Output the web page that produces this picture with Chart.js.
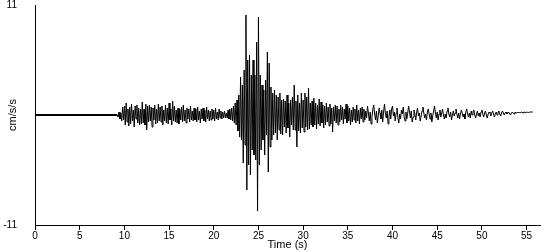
<!DOCTYPE html>
<html>
<head>
<meta charset="utf-8">
<script src="https://cdn.jsdelivr.net/npm/chart.js@4"></script>
<style>
  html, body { margin: 0; padding: 0; background: #fff; }
  #wrap { width: 550px; height: 250px; }
</style>
</head>
<body>
<div id="wrap"><canvas id="chart" width="550" height="250"></canvas></div>
<script>
// accelerogram at 0.1 s steps (cm/s/s)
const quietEnd = 9.2;   // trace is flat before this time
const step = 0.1;
const accel = [
    // 9.2 - 10
    0.0, -0.2, 0.3, -0.4, 0.2, -0.6, 0.8, -0.5,
    // 10 - 12
    0.9, -1.0, 1.2, -0.7, 0.6, -1.1, 0.8, -0.9, 1.1, -0.6,
    0.5, -1.2, 0.9, -0.4, 1.0, -0.8, 0.7, -1.0, 0.6, -0.9,
    // 12 - 14
    1.3, -0.8, 0.6, -1.0, 1.1, -1.5, 0.9, -0.7, 1.0, -0.6,
    0.8, -1.2, 0.7, -0.5, 1.0, -0.9, 0.6, -0.8, 1.1, -0.6,
    // 14 - 16
    0.8, -0.7, 0.9, -1.0, 0.5, -0.6, 1.0, -0.8, 0.7, -0.9,
    1.2, -0.5, 0.6, -1.0, 1.4, -0.6, 0.9, -0.7, 0.5, -0.8,
    // 16 - 18
    0.7, -0.9, 0.6, -0.5, 0.8, -0.7, 1.0, -0.6, 0.5, -0.8,
    0.7, -0.4, 0.6, -0.7, 0.9, -0.5, 0.4, -0.6, 0.7, -0.5,
    // 18 - 20
    0.6, -0.7, 0.8, -0.5, 0.4, -0.8, 0.6, -0.4, 0.7, -0.6,
    0.5, -0.7, 0.8, -0.4, 0.5, -0.6, 0.4, -0.5, 0.6, -0.4,
    // 20 - 22
    0.5, -0.6, 0.7, -0.4, 0.3, -0.5, 0.6, -0.3, 0.4, -0.4,
    0.3, -0.3, 0.4, -0.3, 0.2, -0.3, 0.5, -0.4, 0.6, -0.5,
    // 22 - 23
    0.7, -0.6, 0.9, -0.8, 1.2, -1.0, 1.5, -1.6, 2.0, -2.2,
    // 23 - 24 (main shock)
    3.8, -2.5, 3.0, -4.8, 4.5, -3.0, 10.0, -7.5, 5.5, -5.0,
    // 24 - 25
    6.0, -6.0, 4.0, -3.5, 5.5, -4.0, 4.0, -4.5, 7.3, -9.6,
    // 25 - 26
    9.8, -5.0, 4.0, -3.5, 3.0, -2.5, 2.5, -4.0, 3.5, -2.0,
    // 26 - 27
    6.3, -5.7, 5.2, -3.2, 2.8, -2.5, 2.2, -2.0, 2.5, -1.8,
    // 27 - 28
    2.0, -2.5, 1.8, -1.5, 2.2, -1.9, 1.5, -2.0, 1.6, -1.2,
    // 28 - 29
    1.4, -1.8, 2.0, -1.3, 1.2, -2.2, 1.5, -1.0, 1.8, -1.5,
    // 29 - 30
    3.0, -1.5, 1.4, -3.2, 2.0, -1.6, 1.2, -1.8, 2.2, -1.3,
    // 30 - 31
    1.5, -1.7, 2.2, -1.2, 1.8, -1.5, 2.7, -1.4, 1.2, -1.0,
    // 31 - 32
    1.4, -1.2, 1.7, -1.0, 1.2, -1.4, 1.0, -0.9, 1.6, -1.1,
    // 32 - 33
    1.3, -0.8, 1.0, -1.3, 0.9, -1.0, 1.2, -0.7, 0.8, -1.1,
    // 33 - 34
    1.1, -0.9, 0.7, -1.7, 0.8, -0.6, 1.0, -0.8, 0.9, -1.0,
    // 34 - 35
    0.6, -0.7, 1.0, -0.5, 0.8, -0.9, 0.6, -0.4, 1.1, -0.8,
    // 35 - 36
    0.9, -0.6, 0.7, -1.0, 0.5, -0.7, 0.8, -0.5, 0.6, -0.8,
    // 36 - 37
    1.0, -0.6, 0.5, -0.9, 0.7, -0.4, 0.8, -0.7, 0.6, -0.5,
    // 37 - 40 (coda)
    0.4, -0.3, 0.9, 0.2, -0.6, 0.3, -0.9, -0.2, 0.6, 1.0,
    0.1, -0.5, 0.4, -0.8, -0.1, 0.7, 0.2, -0.4, 0.5, -0.7,
    0.3, 1.1, 0.2, -0.3, 0.4, -0.9, -0.2, 0.5, -0.4, 0.6,
    // 40 - 45
    0.9, -0.1, 0.3, -0.6, 0.2, 0.7, -0.3, -0.8, 0.1, -0.4,
    0.5, 0.1, 0.8, -0.2, -0.6, 0.3, -0.4, 0.2, 0.9, 0.3,
    -0.3, 0.4, -0.7, -0.2, 0.5, 0.1, -0.5, 0.3, 0.7, -0.1,
    0.2, -0.6, -0.1, 0.4, 0.8, 0.2, -0.3, 0.1, -0.5, 0.3,
    0.6, 0.1, -0.4, 0.2, -0.7, -0.1, 0.4, 0.9, 0.2, -0.3,
    // 45 - 50
    0.3, -0.5, 0.1, 0.5, -0.2, 0.2, 0.6, 0.0, -0.4, 0.1,
    -0.3, 0.4, 0.7, 0.1, -0.2, 0.3, -0.5, 0.0, 0.4, -0.1,
    0.2, 0.6, 0.1, -0.3, 0.2, -0.4, 0.1, 0.5, 0.2, -0.2,
    0.1, -0.4, 0.3, 0.6, 0.1, -0.2, 0.2, -0.3, 0.4, 0.0,
    0.3, 0.5, 0.0, -0.3, 0.1, 0.4, -0.1, 0.2, -0.2, 0.3,
    // 50 - 56
    0.5, 0.1, -0.2, 0.2, 0.4, 0.0, -0.3, 0.1, 0.3, 0.2,
    -0.1, 0.2, 0.4, 0.1, -0.2, 0.1, 0.3, 0.0, 0.2, 0.4,
    0.1, -0.1, 0.2, 0.4, 0.2, 0.0, 0.2, 0.3, 0.1, 0.2,
    0.3, 0.1, 0.0, 0.2, 0.3, 0.2, 0.1, 0.3, 0.2, 0.2,
    0.3, 0.2, 0.3, 0.2, 0.3, 0.3, 0.2, 0.3, 0.3, 0.2,
    0.3, 0.3, 0.2, 0.3, 0.3, 0.3, 0.3, 0.3
];

const xTicks = [0, 5, 10, 15, 20, 25, 30, 35, 40, 45, 50, 55];
const yTicks = [-11, 11];

const points = [{ x: 0, y: 0 }];
accel.forEach((v, i) => {
    points.push({ x: +(quietEnd + i * step).toFixed(2), y: v });
});

const tickFont = { family: 'Liberation Sans', size: 10, lineHeight: 1 };

new Chart(document.getElementById('chart'), {
    type: 'line',
    data: {
        datasets: [{
            data: points,
            borderColor: '#000',
            borderWidth: 1,
            // the flat pre-event stretch looks heavier in the original
            segment: {
                borderWidth: ctx => ctx.p1.parsed.x <= quietEnd ? 2 : 1
            },
            pointRadius: 0,
            tension: 0,
            fill: false
        }]
    },
    options: {
        responsive: false,
        animation: false,
        events: [],
        layout: { padding: { top: 5, right: 10, left: 0, bottom: 0 } },
        plugins: {
            legend: { display: false },
            tooltip: { enabled: false }
        },
        scales: {
            x: {
                type: 'linear',
                min: 0,
                max: 56.5,
                afterBuildTicks: scale => { scale.ticks = xTicks.map(v => ({ value: v })); },
                afterFit: scale => { scale.height = 25; },
                border: { color: '#000', width: 1 },
                grid: { drawOnChartArea: false, color: '#000', tickLength: 5 },
                ticks: { color: '#000', font: tickFont, padding: 1, maxRotation: 0, autoSkip: false },
                title: {
                    display: true,
                    text: 'Time (s)',
                    color: '#000',
                    font: { family: 'Liberation Sans', size: 11, lineHeight: 1 },
                    padding: 0
                }
            },
            y: {
                min: -11,
                max: 11,
                afterBuildTicks: scale => { scale.ticks = yTicks.map(v => ({ value: v })); },
                afterFit: scale => { scale.width = 35; },
                border: { color: '#000', width: 1 },
                // long invisible tick marks push the labels away from the axis
                grid: { drawOnChartArea: false, drawTicks: true, tickLength: 18, tickColor: 'rgba(0,0,0,0)' },
                ticks: { color: '#000', font: tickFont, padding: 0 },
                title: {
                    display: true,
                    text: 'cm/s/s',
                    color: '#000',
                    font: { family: 'Liberation Sans', size: 11, lineHeight: 1.2 },
                    padding: { top: 6, bottom: 0 }
                }
            }
        }
    }
});
</script>
</body>
</html>
